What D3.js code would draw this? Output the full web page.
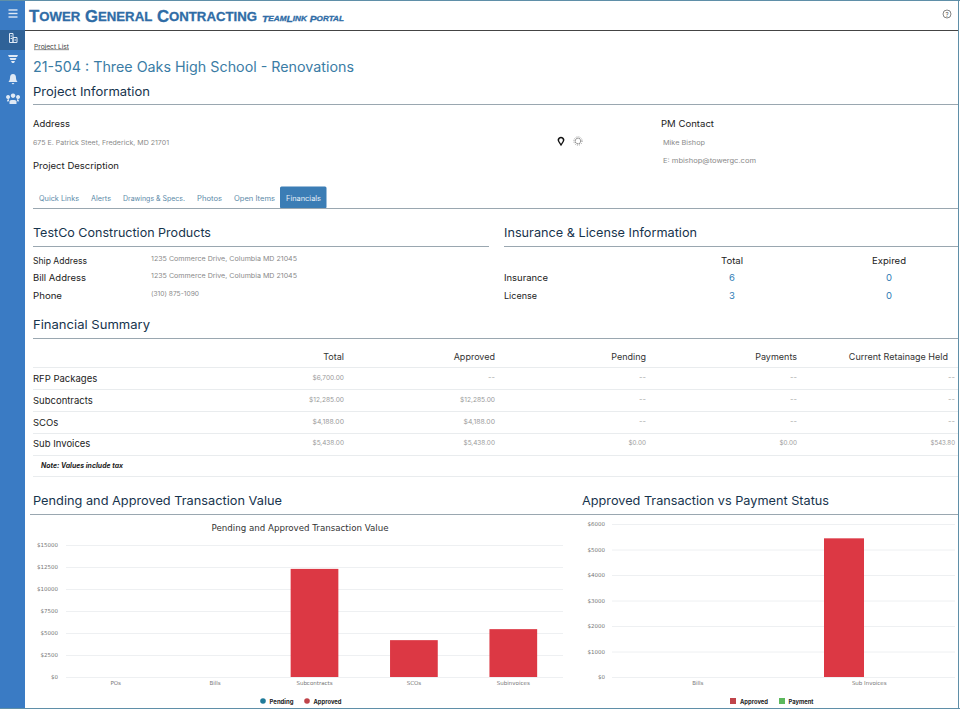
<!DOCTYPE html>
<html>
<head>
<meta charset="utf-8">
<script src="https://cdn.jsdelivr.net/npm/d3@7"></script>
<style>
  html, body { margin: 0; padding: 0; background: #fff; overflow: hidden; }
  svg { display: block; font-family: Inter, "Open Sans", sans-serif; }
  .tick line { stroke: #eef0f2; }
  .domain { display: none; }
  .tick text { fill: #777; font-size: 5.5px; font-family: "DejaVu Sans", sans-serif; }
</style>
</head>
<body>
<script>
// chart data
const pendingCategories = ["POs", "Bills", "Subcontracts", "SCOs", "Subinvoices"];
const pendingValues = [0, 0, 0, 0, 0];
const approvedValues = [0, 0, 12285, 4188, 5438];
const pendingTicks = [0, 2500, 5000, 7500, 10000, 12500, 15000];

const paymentCategories = ["Bills", "Sub Invoices"];
const paymentSeries = ["Approved", "Payment"];
const paymentApproved = [0, 5438];
const paymentPaid = [0, 0];
const paymentTicks = [0, 1000, 2000, 3000, 4000, 5000, 6000];

// financial summary table
const finColumns = ["Total", "Approved", "Pending", "Payments", "Current Retainage Held"];
const finRows = ["RFP Packages", "Subcontracts", "SCOs", "Sub Invoices"];
const finCells = [
  ["$6,700.00", "--", "--", "--", "--"],
  ["$12,285.00", "$12,285.00", "--", "--", "--"],
  ["$4,188.00", "$4,188.00", "--", "--", "--"],
  ["$5,438.00", "$5,438.00", "$0.00", "$0.00", "$543.80"],
];
const tabs = ["Quick Links", "Alerts", "Drawings & Specs.", "Photos", "Open Items"];

const RED = "#dc3844", TEAL = "#1f7a99", GREEN = "#5cb85c";
const BLUE = "#3a7bc4", NAVY = "#17344d", LINK = "#3a7ca5", RULE = "#9aa7b0";

const svg = d3.select("body").append("svg").attr("width", 960).attr("height", 709);

function label(x, y, str, o = {}) {
  const t = svg.append("text")
    .attr("x", x).attr("y", y)
    .attr("font-size", o.size || 9)
    .attr("fill", o.fill || "#222")
    .attr("text-anchor", o.anchor || "start")
    .attr("dominant-baseline", "central")
    .attr("font-weight", o.weight || 400)
    .text(str);
  if (o.family) t.attr("font-family", o.family);
  if (o.style) t.attr("font-style", o.style);
  if (o.underline) t.attr("text-decoration", "underline");
  if (o.width) t.attr("textLength", o.width).attr("lengthAdjust", "spacingAndGlyphs");
  return t;
}

// logo text: capitals a bit taller than the small capitals
function logo(x, y, str, big, small, width, italic) {
  const t = svg.append("text").attr("x", x).attr("y", y)
    .attr("dominant-baseline", "central")
    .attr("font-family", "Liberation Sans").attr("font-weight", 700)
    .attr("fill", "#2f6ca6").attr("stroke", "#2f6ca6").attr("stroke-width", 0.3)
    .attr("textLength", width).attr("lengthAdjust", "spacingAndGlyphs");
  if (italic) t.attr("font-style", "italic");
  str.split("").forEach(c => {
    const upper = c === c.toUpperCase();
    t.append("tspan").attr("font-size", upper ? big : small).text(c.toUpperCase());
  });
}

function rule(x1, x2, y, color = RULE, w = 1) {
  svg.append("line").attr("x1", x1).attr("x2", x2).attr("y1", y).attr("y2", y)
    .attr("stroke", color).attr("stroke-width", w);
}

// --- frame and sidebar ---
svg.append("rect").attr("width", 25).attr("height", 709).attr("fill", BLUE);
svg.append("rect").attr("y", 30).attr("width", 25).attr("height", 20).attr("fill", "#2f6298");
rule(0, 960, 0.5, "#5f8fa8", 1);
rule(0, 960, 708.5, "#5f8fa8", 1);
svg.append("line").attr("x1", 958.5).attr("x2", 958.5).attr("y1", 0).attr("y2", 709).attr("stroke", "#5f8fa8");
rule(25, 958, 30.5, "#444", 1);

[10, 13.5, 17].forEach(y => svg.append("rect").attr("x", 8.5).attr("y", y - 0.7)
  .attr("width", 9).attr("height", 1.4).attr("fill", "#dfe9f5"));
const icon = "#dfe9f5";
svg.append("path").attr("fill", "none").attr("stroke", icon).attr("stroke-width", 1)
  .attr("d", "M9.5 33.500h3.500v9h-3.500zM13 37.500h4v5h-4zM10.500 36h1.500M10.500 38.500h1.500M14.500 40h1.500");
svg.append("path").attr("fill", icon).attr("d", "M8 55h10l-1 2h-8zM9.500 58h7l-1 2h-5zM11 61h4l-1 2h-2z");
svg.append("path").attr("fill", icon).attr("d", "M13 74c2 0 3 1.500 3 4 0 2 1 3 1.500 4h-9c.5-1 1.500-2 1.500-4 0-2.500 1-4 3-4zM11.500 83h3l-1.500 1.500z");
svg.append("path").attr("fill", icon).attr("d", "M8 99a2 2 0 1 1 .1 0zM18 99a2 2 0 1 1 .1 0zM13 98a2.300 2.300 0 1 1 .1 0zM9.500 104v-3c0-1.500 7-1.500 7 0v3zM7 101.500c0-2 1-2.500 2-2.300v2zM19 101.500c0-2-1-2.500-2-2.300v2z");

// --- header ---
logo(29, 15.5, "Tower General Contracting", 16.5, 13, 228, false);
logo(262, 17.5, "TeamLink Portal", 9.5, 7.5, 82, true);
svg.append("circle").attr("cx", 947).attr("cy", 14).attr("r", 4).attr("fill", "none").attr("stroke", "#666").attr("stroke-width", 0.8);
label(947, 14, "?", { size: 6, anchor: "middle", fill: "#555" });

// --- project information ---
label(34, 46, "Project List", { size: 6, fill: "#444", underline: true, width: 35 });
label(33, 66.5, "21-504 : Three Oaks High School - Renovations", { size: 14, fill: LINK, width: 321 });
label(33, 91, "Project Information", { size: 12, fill: NAVY, width: 117 });
rule(33, 958, 104.5);

label(33, 123, "Address", { width: 37 });
label(33, 143, "675 E. Patrick Steet, Frederick, MD 21701", { size: 6.5, fill: "#8a8a8a", width: 136 });
label(33, 165, "Project Description", { width: 86 });

svg.append("path").attr("fill", "none").attr("stroke", "#111").attr("stroke-width", 1.4)
  .attr("d", "M561 145l-2.200-3.500a2.600 2.600 0 1 1 4.400 0z");
svg.append("circle").attr("cx", 578).attr("cy", 141).attr("r", 2.8).attr("fill", "none").attr("stroke", "#666").attr("stroke-width", 1).attr("stroke-dasharray", "1.500 0.500");
svg.append("circle").attr("cx", 578).attr("cy", 141).attr("r", 4.200).attr("fill", "none").attr("stroke", "#888").attr("stroke-width", 0.8).attr("stroke-dasharray", "1 1.200");

label(661, 123, "PM Contact", { width: 53 });
label(663, 143, "Mike Bishop", { size: 6.5, fill: "#8a8a8a", width: 42 });
label(663, 160.5, "E:  mbishop@towergc.com", { size: 6.5, fill: "#8a8a8a", width: 93 });

// --- tabs ---
const tabX = [39, 91, 123, 197, 234];
const tabW = [40, 20, 62, 25, 41];
tabs.forEach((t, i) => label(tabX[i], 198, t, { size: 7, fill: "#5b8aa8", width: tabW[i] }));
svg.append("rect").attr("x", 280).attr("y", 186.5).attr("width", 46.5).attr("height", 22).attr("rx", 1.5).attr("fill", "#3b7db5");
label(286, 198, "Financials", { size: 7, fill: "#e6f0f8", width: 35 });
rule(33, 958, 208.5);

// --- company / insurance ---
label(33, 232, "TestCo Construction Products", { size: 12, fill: NAVY, width: 178 });
rule(33, 489, 246.5);
label(504, 232, "Insurance & License Information", { size: 12, fill: NAVY, width: 193 });
rule(504, 958, 246.5);

[["Ship Address", 260, 54, "1235 Commerce Drive, Columbia MD 21045", 146],
 ["Bill Address", 277, 53, "1235 Commerce Drive, Columbia MD 21045", 146],
 ["Phone", 295, 29, "(310) 875-1090", 48]].forEach(r => {
  label(33, r[1], r[0], { width: r[2] });
  label(151, r[1] - 1, r[3], { size: 6.5, fill: "#8a8a8a", width: r[4] });
});

label(732, 260, "Total", { anchor: "middle", width: 22 });
label(889, 260, "Expired", { anchor: "middle", width: 34 });
label(504, 277, "Insurance", { width: 44 });
label(504, 295, "License", { width: 33 });
[["6", 732, 277], ["0", 889, 277], ["3", 732, 295], ["0", 889, 295]].forEach(d =>
  label(d[1], d[2], d[0], { size: 9.5, anchor: "middle", fill: "#2f7cb5" }));

// --- financial summary ---
label(33, 324, "Financial Summary", { size: 12, fill: NAVY, width: 117 });
rule(33, 958, 338.5);

const headerX = [344, 495, 646, 797, 948];
const cellX = [344, 495, 646, 797, 955];
finColumns.forEach((c, i) => label(headerX[i], 356, c, { size: 9, anchor: "end", fill: "#333" }));
[367, 389, 411, 433, 455, 476].forEach(y => rule(33, 958, y + 0.5, "#e9ecee", 1));
const rowY = [378, 400, 422, 443];
finRows.forEach((r, i) => {
  label(33, rowY[i], r, { size: 9.5, fill: "#222" });
  finCells[i].forEach((v, j) => label(cellX[j], rowY[i], v, { size: 6.5, anchor: "end", fill: "#9a9a9a", width: v === "--" ? 7 : v.length * 3.5 }));
});
label(41, 465, "Note: Values include tax", { size: 7, weight: 700, style: "italic", width: 82 });

// --- charts ---
label(33, 500, "Pending and Approved Transaction Value", { size: 12, fill: NAVY, width: 249 });
label(582, 500, "Approved Transaction vs Payment Status", { size: 12, fill: NAVY, width: 247 });
rule(30, 958, 514.5);

// left chart: stacked bars
label(300, 527.5, "Pending and Approved Transaction Value", { size: 9.5, anchor: "middle", fill: "#333", family: "DejaVu Sans", width: 177 });

const x1 = d3.scaleBand().domain(pendingCategories).range([66, 563]).paddingInner(0.52).paddingOuter(0.26);
const y1 = d3.scaleLinear().domain([0, 15000]).range([677, 545]);

svg.append("g").attr("transform", "translate(66,0)")
  .call(d3.axisLeft(y1).tickValues(pendingTicks).tickSize(-497).tickPadding(8).tickFormat(d => "$" + d));
svg.append("g").attr("transform", "translate(0,677)")
  .call(d3.axisBottom(x1).tickSize(0).tickPadding(4));

const stacked = d3.stack().keys(["pending", "approved"])(
  pendingCategories.map((c, i) => ({ cat: c, pending: pendingValues[i], approved: approvedValues[i] }))
);
svg.append("g").selectAll("g").data(stacked).join("g")
  .attr("fill", d => d.key === "pending" ? TEAL : RED)
  .selectAll("rect").data(d => d).join("rect")
  .attr("x", d => x1(d.data.cat))
  .attr("y", d => y1(d[1]))
  .attr("width", x1.bandwidth())
  .attr("height", d => y1(d[0]) - y1(d[1]));

// right chart: grouped bars
const x2 = d3.scaleBand().domain(paymentCategories).range([612, 955]);
const x2s = d3.scaleBand().domain(paymentSeries).range([0, x2.bandwidth()]).paddingInner(0.208).paddingOuter(0.802);
const y2 = d3.scaleLinear().domain([0, 6000]).range([677, 524]);

svg.append("g").attr("transform", "translate(612,0)")
  .call(d3.axisLeft(y2).tickValues(paymentTicks).tickSize(-343).tickPadding(7).tickFormat(d => "$" + d));
svg.append("g").attr("transform", "translate(0,677)")
  .call(d3.axisBottom(x2).tickSize(0).tickPadding(4));

[paymentApproved, paymentPaid].forEach((vals, s) => {
  svg.append("g").attr("fill", s === 0 ? RED : GREEN)
    .selectAll("rect").data(vals).join("rect")
    .attr("x", (d, i) => x2(paymentCategories[i]) + x2s(paymentSeries[s]))
    .attr("y", d => y2(d))
    .attr("width", x2s.bandwidth())
    .attr("height", d => y2(0) - y2(d));
});

// legends
svg.append("circle").attr("cx", 263).attr("cy", 701).attr("r", 2.8).attr("fill", TEAL);
label(269.5, 701, "Pending", { size: 6, weight: 700, fill: "#222", width: 24 });
svg.append("circle").attr("cx", 307).attr("cy", 701).attr("r", 2.8).attr("fill", "#c0444a");
label(313.5, 701, "Approved", { size: 6, weight: 700, fill: "#222", width: 28 });
svg.append("rect").attr("x", 730).attr("y", 698).attr("width", 6).attr("height", 6).attr("fill", "#c0444a");
label(740, 701, "Approved", { size: 6, weight: 700, fill: "#222", width: 28 });
svg.append("rect").attr("x", 779).attr("y", 698).attr("width", 6).attr("height", 6).attr("fill", GREEN);
label(788.5, 701, "Payment", { size: 6, weight: 700, fill: "#222", width: 25 });
</script>
</body>
</html>
